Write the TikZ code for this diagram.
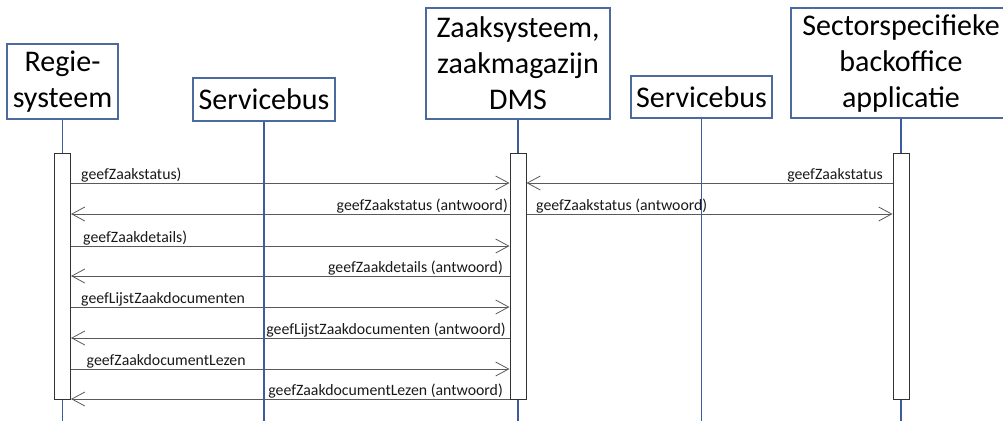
\documentclass[tikz,border=0pt]{standalone}
\usepackage{fontspec}
\setmainfont{Carlito}
\usetikzlibrary{arrows.meta}
\definecolor{boxblue}{RGB}{74,106,160}
\definecolor{lifeblue}{RGB}{62,92,155}
\definecolor{msggray}{RGB}{90,90,90}
\definecolor{bargray}{RGB}{50,50,50}
\tikzset{
  actor/.style={draw=boxblue, line width=1.1pt, fill=white, inner sep=0pt, align=center,
    font=\fontsize{30}{36}\selectfont},
  lifeline/.style={draw=lifeblue, line width=1.2pt},
  actbar/.style={draw=bargray, line width=1pt, fill=white, inner sep=0pt, minimum width=16pt, minimum height=246pt},
  msg/.style={draw=msggray, line width=0.9pt, -{Straight Barb[length=13pt,width=14pt,line width=0.8pt]}},
  lbl/.style={inner sep=0pt, font=\fontsize{15.8}{17}\selectfont, text=black!90}
}
\begin{document}
\begin{tikzpicture}[x=1pt,y=-1pt]
\useasboundingbox (0,0) rectangle (1003,421);
% actors
\node[actor, minimum width=111pt, minimum height=75pt] (regie) at (62.5,81.5) {Regie-\\systeem};
\node[actor, minimum width=142pt, minimum height=43pt] (bus1) at (264,99.5) {Servicebus};
\node[actor, minimum width=184pt, minimum height=111pt] (zaak) at (518,63.5) {Zaaksysteem,\\zaakmagazijn\\DMS};
\node[actor, minimum width=141pt, minimum height=42pt] (bus2) at (701.5,97) {Servicebus};
\node[actor, minimum width=220pt, minimum height=110pt] (sector) at (901,63) {Sectorspecifieke\\backoffice\\applicatie};
% lifeline ends
\coordinate (e1) at (62.5,421);
\coordinate (e2) at (264,421);
\coordinate (e3) at (518,421);
\coordinate (e4) at (701.5,421);
\coordinate (e5) at (901,421);
\draw[lifeline] (regie.south) -- (e1);
\draw[lifeline] (bus1.south) -- (e2);
\draw[lifeline] (zaak.south) -- (e3);
\draw[lifeline] (bus2.south) -- (e4);
\draw[lifeline] (sector.south) -- (e5);
% activation bars
\node[actbar, anchor=north] (rb) at (62.5,153) {};
\node[actbar, anchor=north] (zb) at (518,153) {};
\node[actbar, anchor=north] (sb) at (901,153) {};
% message rows
\foreach \n/\y in {1/183,2/214,3/246,4/276,5/307,6/338,7/369,8/399}{
  \coordinate (y\n) at (0,\y);
}
\draw[msg] (rb.east |- y1) -- (zb.west |- y1);
\draw[msg] (zb.west |- y2) -- (rb.east |- y2);
\draw[msg] (rb.east |- y3) -- (zb.west |- y3);
\draw[msg] (zb.west |- y4) -- (rb.east |- y4);
\draw[msg] (rb.east |- y5) -- (zb.west |- y5);
\draw[msg] (zb.west |- y6) -- (rb.east |- y6);
\draw[msg] (rb.east |- y7) -- (zb.west |- y7);
\draw[msg] (zb.west |- y8) -- (rb.east |- y8);
\draw[msg] (sb.west |- y1) -- (zb.east |- y1);
\draw[msg] (zb.east |- y2) -- (sb.west |- y2);
% labels
\node[lbl, anchor=base west] (l1) at (81,179) {geefZaakstatus)};
\node[lbl, anchor=base east] (l2) at (508,210) {geefZaakstatus (antwoord)};
\node[lbl, anchor=base west] (l3) at (83,242) {geefZaakdetails)};
\node[lbl, anchor=base east] (l4) at (503,272) {geefZaakdetails (antwoord)};
\node[lbl, anchor=base west] (l5) at (81,303) {geefLijstZaakdocumenten};
\node[lbl, anchor=base east] (l6) at (506,334) {geefLijstZaakdocumenten (antwoord)};
\node[lbl, anchor=base west] (l7) at (86.5,365) {geefZaakdocumentLezen};
\node[lbl, anchor=base east] (l8) at (503,395) {geefZaakdocumentLezen (antwoord)};
\node[lbl, anchor=base east] (l9) at (883,179) {geefZaakstatus};
\node[lbl, anchor=base west] (l10) at (536,210) {geefZaakstatus (antwoord)};
\end{tikzpicture}
\end{document}
